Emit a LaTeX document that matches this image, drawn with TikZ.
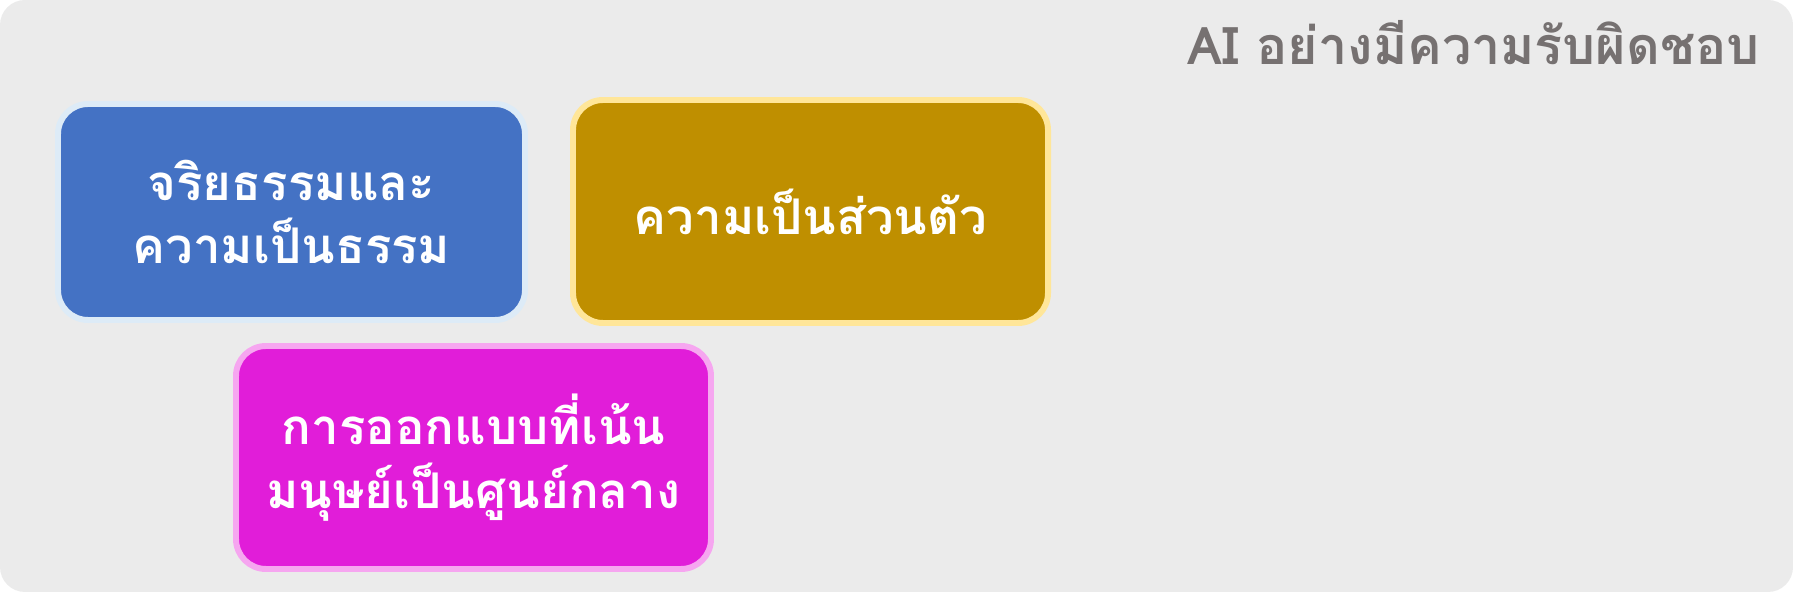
\documentclass[tikz,border=0pt]{standalone}
\usepackage{fontspec}
\usepackage{xcolor}
\newfontfamily\thaifont[Script=Thai]{Loma}

\definecolor{panelgrey}{HTML}{EBEBEB}
\definecolor{titlegrey}{HTML}{767171}
\definecolor{ethicsblue}{HTML}{4472C4}
\definecolor{ethicsrim}{HTML}{DDEBF7}
\definecolor{privacygold}{HTML}{BF8F00}
\definecolor{privacyrim}{HTML}{FFE699}
\definecolor{humanpink}{HTML}{E11DD9}
\definecolor{humanrim}{HTML}{F6A6F0}

\begin{document}
\begin{tikzpicture}[
  topic/.style={rectangle, rounded corners=0.3cm, line width=1.7pt, align=center,
                inner sep=0pt, text=white, font=\thaifont\bfseries\fontsize{14}{18}\selectfont}
]
\useasboundingbox (0,0) rectangle (17.93,5.92);
\fill[panelgrey, rounded corners=0.25cm] (0,0) rectangle (17.93,5.92);

\node[anchor=base east, text=titlegrey, font=\thaifont\bfseries\fontsize{14.8}{18}\selectfont] (title) at (17.72,5.27) {AI อย่างมีความรับผิดชอบ};

\node[topic, fill=ethicsblue, draw=ethicsrim, minimum width=4.67cm, minimum height=2.16cm] (ethics) at (2.915,3.80) {จริยธรรมและ\\ความเป็นธรรม};
\node[topic, fill=privacygold, draw=privacyrim, minimum width=4.75cm, minimum height=2.23cm] (privacy) at (8.105,3.805) {ความเป็นส่วนตัว};
\node[topic, fill=humanpink, draw=humanrim, minimum width=4.75cm, minimum height=2.23cm] (human) at (4.735,1.345) {การออกแบบที่เน้น\\มนุษย์เป็นศูนย์กลาง};
\end{tikzpicture}
\end{document}
